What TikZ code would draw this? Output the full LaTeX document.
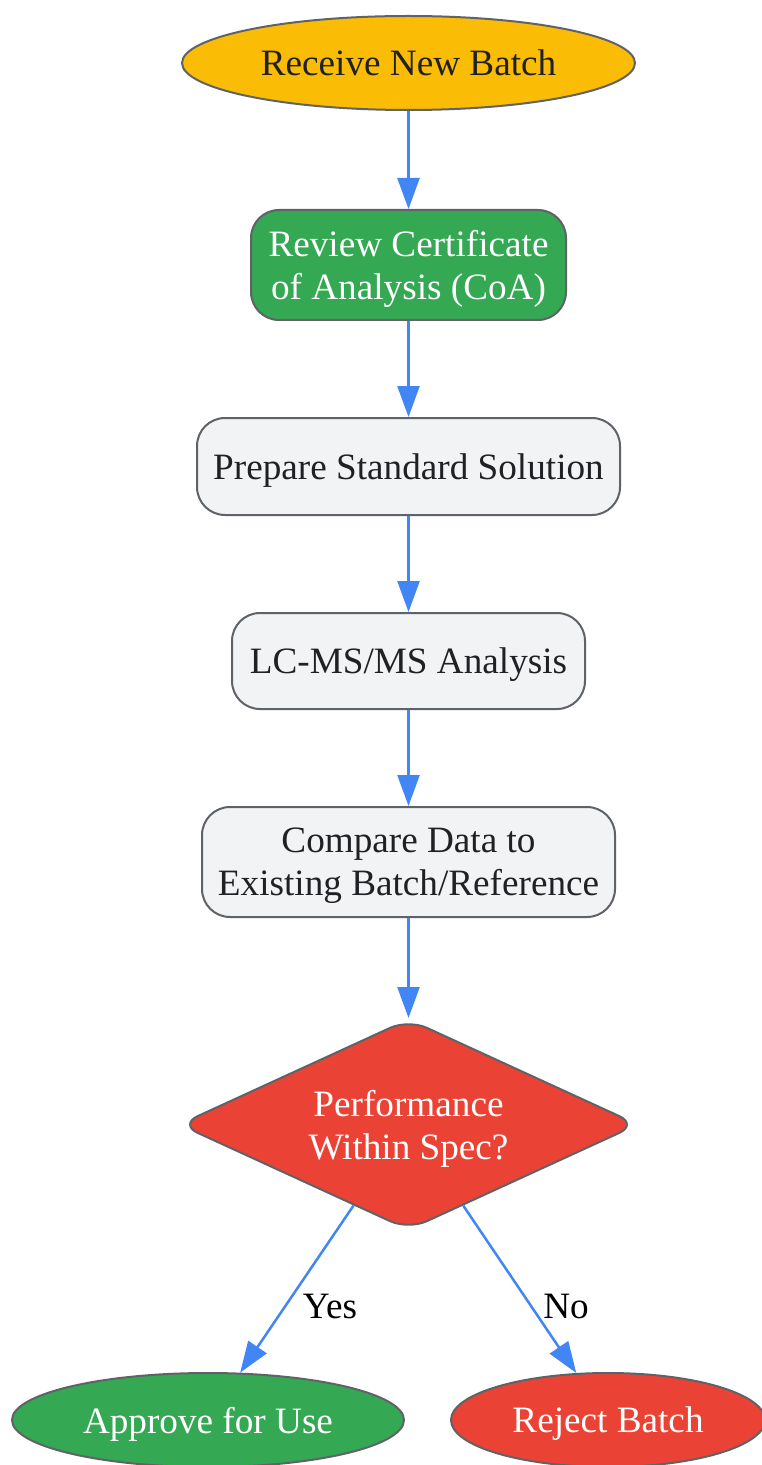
\documentclass[tikz,border=0pt]{standalone}
\usepackage{fontspec}
\setmainfont{Liberation Serif}
\usetikzlibrary{shapes.geometric,arrows.meta}
\definecolor{gyellow}{HTML}{FBBC05}
\definecolor{ggreen}{HTML}{34A853}
\definecolor{gred}{HTML}{EA4335}
\definecolor{glight}{HTML}{F1F3F4}
\definecolor{gborder}{HTML}{5F6368}
\definecolor{gblue}{HTML}{4285F4}
\definecolor{gtext}{HTML}{202124}
\begin{document}
\begin{tikzpicture}[x=0.5pt,y=-0.5pt,
  base/.style={draw=gborder, line width=1pt, inner sep=0pt, align=center,
    font=\fontsize{18.6}{21.5}\selectfont, text=gtext, text depth=0pt},
  oval/.style={base, ellipse},
  stepbox/.style={base, rounded corners=14pt, fill=glight},
  decision/.style={base, diamond, shape aspect=2.175, rounded corners=10pt},
  flow/.style={draw=gblue, line width=1.25pt, -{Triangle[length=15.5pt,width=11pt]}},
  elabel/.style={inner sep=0pt, font=\fontsize{18.6}{21.5}\selectfont, text=black}
]
\useasboundingbox (0,0) rectangle (761,1465);
\node[oval, fill=gyellow, minimum width=226.5pt, minimum height=47pt] (start) at (408.5,63) {Receive New Batch};
\node[stepbox, fill=ggreen, text=white, minimum width=157.5pt, minimum height=55pt] (coa) at (408.5,265) {Review Certificate\\of Analysis (CoA)};
\node[stepbox, minimum width=211.5pt, minimum height=48.5pt] (prep) at (408.5,466.5) {Prepare Standard Solution};
\node[stepbox, minimum width=176.5pt, minimum height=48pt] (lcms) at (408.5,661) {LC-MS/MS Analysis};
\node[stepbox, minimum width=206.5pt, minimum height=55pt] (comp) at (408.5,862) {Compare Data to\\Existing Batch/Reference};
\node[decision, fill=gred, text=white, minimum width=229.5pt, minimum height=105.5pt] (dec) at (408.5,1124.5) {Performance\\Within Spec?};
\node[oval, fill=ggreen, text=white, minimum width=196pt, minimum height=47pt] (approve) at (208,1420) {Approve for Use};
\node[oval, fill=gred, text=white, minimum width=157pt, minimum height=47pt] (reject) at (608,1420) {Reject Batch};
\draw[flow] (start) -- (coa);
\draw[flow] (coa) -- (prep);
\draw[flow] (prep) -- (lcms);
\draw[flow] (lcms) -- (comp);
\draw[flow] (comp) -- (dec);
\draw[flow] (dec) -- (approve);
\draw[flow] (dec) -- (reject);
\node[elabel] (yes) at (330,1306) {Yes};
\node[elabel] (no) at (566,1306) {No};
\end{tikzpicture}
\end{document}
